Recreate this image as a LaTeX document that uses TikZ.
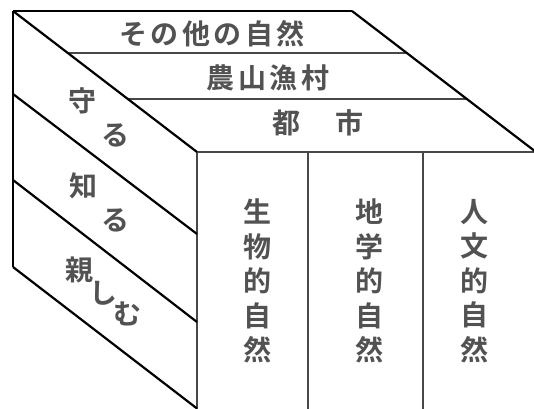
\documentclass[tikz,border=0pt]{standalone}
\usepackage{fontspec}
\newfontfamily\jp[BoldFont={* Bold}]{Noto Sans CJK JP}
\newfontfamily\jpls[LetterSpace=12,BoldFont={* Bold}]{Noto Sans CJK JP}
\usetikzlibrary{calc}
\begin{document}
\begin{tikzpicture}[x=1pt,y=-1pt,
  edge/.style={line width=2.2pt, black},
  band/.style={line width=2.2pt, black!72},
  colline/.style={line width=2.8pt, black!72},
  lbl/.style={font=\jp\bfseries\fontsize{28}{34.5}\selectfont, text=black!68, inner sep=0pt, align=center},
  hlbl/.style={font=\jpls\bfseries\fontsize{28}{34}\selectfont, text=black!68, inner sep=0pt},
]
\useasboundingbox (0,0) rectangle (534,408);
\fill[white] (0,0) rectangle (534,408);
\clip (0,0) rectangle (534,408);
% corners
\coordinate (TL) at (13,11);
\coordinate (TR) at (352,11);
\coordinate (FL) at (197,152);
\coordinate (FR) at (536,152);
\coordinate (FLb) at (197,412);
\coordinate (C1t) at (308,152);
\coordinate (C1b) at (308,412);
\coordinate (C2t) at (423,152);
\coordinate (C2b) at (423,412);
% top face bands
\coordinate (a1) at ($(TL)!0.298!(FL)$);
\coordinate (a2) at ($(TR)!0.298!(FR)$);
\coordinate (b1) at ($(TL)!0.624!(FL)$);
\coordinate (b2) at ($(TR)!0.624!(FR)$);
% left face
\coordinate (L1) at (13,94);
\coordinate (L2) at (13,180);
\coordinate (L3) at (13,267);
\coordinate (R1) at (197,234);
\coordinate (R2) at (197,322);
\coordinate (R3) at (197,408.5);
% lines
\draw[band] (a1) -- (a2);
\draw[band] (b1) -- (b2);
\draw[band] (FL) -- (FR);
\draw[colline] (FL) -- (FLb);
\draw[colline] (C1t) -- (C1b);
\draw[colline] (C2t) -- (C2b);
\draw[edge] (TL) -- (TR);
\draw[edge] (TL) -- (FL);
\draw[edge] (TR) -- (FR);
\draw[edge] (TL) -- (L3);
\draw[edge] (L1) -- (R1);
\draw[edge] (L2) -- (R2);
\draw[edge] (L3) -- (R3);
% top texts
\node[hlbl] (t1) at (212,34) {その他の自然};
\node[hlbl] (t2) at (268,78) {農山漁村};
\node[hlbl] (t3) at (318,123) {都　市};
% left face texts
\node[lbl] (m1) at (82,101) {守};
\node[lbl] (m2) at (115,135) {る};
\node[lbl] (s1) at (83,186) {知};
\node[lbl] (s2) at (115,220) {る};
\node[lbl] (k1) at (79,270) {親};
\node[lbl] (k2) at (103,293) {し};
\node[lbl] (k3) at (127,314) {む};
% front columns
\node[lbl] (c1) at (257,281) {生\\物\\的\\自\\然};
\node[lbl] (c2) at (369,281) {地\\学\\的\\自\\然};
\node[lbl] (c3) at (474,281) {人\\文\\的\\自\\然};
\end{tikzpicture}
\end{document}
